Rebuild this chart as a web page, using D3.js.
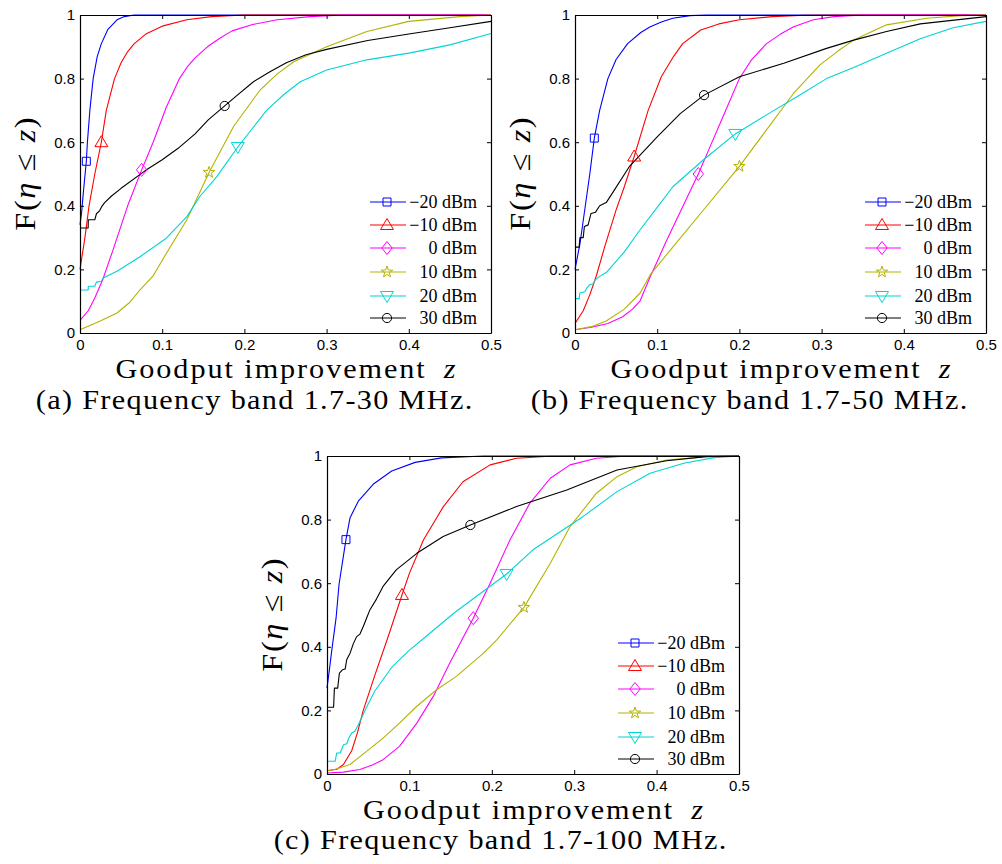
<!DOCTYPE html>
<html><head><meta charset="utf-8">
<script src="https://cdn.jsdelivr.net/npm/d3@7"></script>
<style>body{margin:0;background:#fff} svg{display:block}</style>
</head><body>
<svg id="c" width="1002" height="864"></svg>
<script>
// ---------- tick labels / categories ----------
const xTicks = [0, 0.1, 0.2, 0.3, 0.4, 0.5];
const yTicks = [0, 0.2, 0.4, 0.6, 0.8, 1];
const seriesNames = ["\u221220 dBm", "\u221210 dBm", "0 dBm", "10 dBm", "20 dBm", "30 dBm"];
const seriesColors = ["#0000ff", "#ff0000", "#ff00ff", "#b3b300", "#00d4d4", "#000000"];
const markerTypes = ["square", "triangle", "diamond", "star", "triangleDown", "circle"];
const captions = ["(a) Frequency band 1.7-30 MHz.", "(b) Frequency band 1.7-50 MHz.", "(c) Frequency band 1.7-100 MHz."];

// ---------- panel (a) 1.7-30 MHz : [z, F] ----------
const a_m20 = [[0,0.34],[0.002,0.38],[0.004,0.44],[0.0077,0.54],[0.009,0.60],[0.012,0.70],[0.016,0.80],[0.021,0.87],[0.026,0.91],[0.034,0.955],[0.045,0.985],[0.054,0.995],[0.066,1],[0.5,1]];
const a_m10 = [[0,0.2],[0.006,0.3],[0.011,0.4],[0.018,0.5],[0.026,0.6],[0.032,0.7],[0.042,0.8],[0.05,0.85],[0.058,0.885],[0.066,0.91],[0.08,0.94],[0.1,0.965],[0.13,0.985],[0.16,0.995],[0.2,1],[0.5,1]];
const a_0 = [[0,0.04],[0.01,0.07],[0.018,0.11],[0.028,0.17],[0.04,0.26],[0.058,0.4],[0.075,0.513],[0.089,0.6],[0.105,0.71],[0.121,0.8],[0.13,0.835],[0.14,0.865],[0.155,0.9],[0.17,0.927],[0.185,0.95],[0.21,0.97],[0.24,0.985],[0.28,0.995],[0.32,1],[0.5,1]];
const a_10 = [[0,0.01],[0.024,0.037],[0.045,0.063],[0.06,0.095],[0.073,0.136],[0.089,0.18],[0.105,0.25],[0.13,0.356],[0.157,0.505],[0.187,0.65],[0.219,0.764],[0.24,0.815],[0.26,0.853],[0.3,0.9],[0.349,0.948],[0.4,0.98],[0.462,0.995],[0.5,1]];
const a_20 = [[0,0.135],[0.0099,0.135],[0.0101,0.147],[0.018,0.147],[0.02,0.16],[0.026,0.163],[0.028,0.173],[0.045,0.194],[0.073,0.24],[0.105,0.298],[0.13,0.366],[0.146,0.43],[0.166,0.49],[0.192,0.585],[0.227,0.70],[0.248,0.75],[0.268,0.79],[0.3,0.827],[0.349,0.859],[0.4,0.88],[0.45,0.906],[0.5,0.942]];
const a_30 = [[0,0.33],[0.0099,0.33],[0.0101,0.356],[0.018,0.356],[0.02,0.375],[0.024,0.385],[0.027,0.4],[0.03,0.41],[0.038,0.43],[0.05,0.455],[0.079,0.51],[0.1,0.545],[0.119,0.58],[0.14,0.626],[0.156,0.67],[0.176,0.714],[0.19,0.745],[0.211,0.79],[0.23,0.82],[0.251,0.85],[0.275,0.875],[0.3,0.892],[0.35,0.92],[0.4,0.94],[0.45,0.96],[0.5,0.98]];
const a_markers = [[0.0077,0.54],[0.026,0.60],[0.075,0.513],[0.157,0.505],[0.192,0.585],[0.176,0.714]];

// ---------- panel (b) 1.7-50 MHz ----------
const b_m20 = [[0,0.2],[0.006,0.28],[0.012,0.39],[0.018,0.5],[0.0235,0.613],[0.03,0.7],[0.04,0.8],[0.05,0.86],[0.064,0.91],[0.08,0.945],[0.091,0.962],[0.105,0.978],[0.119,0.99],[0.14,0.998],[0.16,1],[0.5,1]];
const b_m10 = [[0,0.03],[0.01,0.07],[0.018,0.12],[0.026,0.18],[0.036,0.27],[0.05,0.387],[0.06,0.46],[0.072,0.555],[0.089,0.7],[0.105,0.806],[0.12,0.87],[0.131,0.91],[0.153,0.953],[0.175,0.972],[0.2,0.985],[0.24,0.995],[0.28,0.999],[0.36,1],[0.5,1]];
const b_0 = [[0,0.01],[0.02,0.018],[0.04,0.03],[0.058,0.051],[0.07,0.075],[0.079,0.1],[0.092,0.18],[0.1,0.225],[0.11,0.283],[0.131,0.397],[0.15,0.5],[0.165,0.59],[0.18,0.68],[0.2,0.8],[0.215,0.86],[0.233,0.91],[0.25,0.94],[0.266,0.963],[0.29,0.985],[0.315,0.995],[0.35,1],[0.5,1]];
const b_10 = [[0,0.01],[0.02,0.02],[0.038,0.038],[0.06,0.075],[0.079,0.125],[0.092,0.185],[0.119,0.27],[0.156,0.386],[0.2,0.524],[0.233,0.639],[0.266,0.754],[0.298,0.843],[0.319,0.885],[0.339,0.921],[0.379,0.969],[0.428,0.99],[0.47,0.998],[0.5,1]];
const b_20 = [[0,0.108],[0.005,0.108],[0.006,0.126],[0.012,0.13],[0.014,0.14],[0.018,0.152],[0.022,0.155],[0.025,0.168],[0.03,0.178],[0.038,0.19],[0.06,0.255],[0.079,0.324],[0.1,0.395],[0.119,0.46],[0.156,0.544],[0.195,0.626],[0.233,0.686],[0.27,0.743],[0.306,0.8],[0.339,0.835],[0.379,0.88],[0.42,0.925],[0.46,0.96],[0.5,0.98]];
const b_30 = [[0,0.27],[0.005,0.27],[0.006,0.3],[0.01,0.3],[0.0114,0.335],[0.016,0.34],[0.0195,0.376],[0.025,0.38],[0.03,0.4],[0.038,0.41],[0.048,0.45],[0.066,0.523],[0.1,0.617],[0.128,0.69],[0.157,0.748],[0.2,0.806],[0.254,0.848],[0.306,0.895],[0.339,0.921],[0.379,0.948],[0.42,0.972],[0.5,0.995]];
const b_markers = [[0.0235,0.613],[0.072,0.555],[0.15,0.5],[0.2,0.524],[0.195,0.626],[0.157,0.748]];

// ---------- panel (c) 1.7-100 MHz ----------
const c_m20 = [[0,0.27],[0.003,0.33],[0.0057,0.387],[0.011,0.49],[0.0146,0.596],[0.019,0.67],[0.023,0.737],[0.028,0.806],[0.038,0.858],[0.056,0.911],[0.0785,0.953],[0.107,0.98],[0.139,0.994],[0.19,1],[0.5,1]];
const c_m10 = [[0,0.01],[0.012,0.015],[0.02,0.03],[0.03,0.073],[0.037,0.13],[0.044,0.2],[0.058,0.31],[0.074,0.43],[0.091,0.563],[0.1,0.631],[0.117,0.736],[0.141,0.84],[0.165,0.919],[0.198,0.972],[0.23,0.993],[0.27,0.999],[0.31,1],[0.5,1]];
const c_0 = [[0,0.003],[0.02,0.006],[0.04,0.014],[0.055,0.028],[0.068,0.045],[0.088,0.087],[0.109,0.16],[0.129,0.244],[0.149,0.349],[0.1775,0.49],[0.198,0.6],[0.222,0.736],[0.246,0.851],[0.271,0.93],[0.295,0.972],[0.327,0.993],[0.36,0.999],[0.39,1],[0.5,1]];
const c_10 = [[0,0.01],[0.01,0.015],[0.028,0.03],[0.048,0.071],[0.068,0.113],[0.088,0.16],[0.109,0.213],[0.133,0.265],[0.157,0.307],[0.19,0.38],[0.206,0.422],[0.239,0.524],[0.271,0.663],[0.295,0.778],[0.327,0.883],[0.352,0.935],[0.376,0.966],[0.412,0.987],[0.47,1],[0.5,1]];
const c_20 = [[0,0.04],[0.01,0.04],[0.0117,0.066],[0.016,0.066],[0.02,0.092],[0.024,0.095],[0.026,0.11],[0.03,0.129],[0.034,0.135],[0.038,0.155],[0.042,0.177],[0.05,0.22],[0.058,0.261],[0.0785,0.335],[0.099,0.387],[0.119,0.43],[0.155,0.508],[0.218,0.629],[0.25,0.705],[0.311,0.81],[0.352,0.888],[0.392,0.946],[0.433,0.977],[0.47,0.995],[0.5,1]];
const c_30 = [[0,0.21],[0.008,0.21],[0.009,0.27],[0.013,0.27],[0.015,0.317],[0.019,0.328],[0.022,0.33],[0.024,0.36],[0.028,0.38],[0.032,0.41],[0.036,0.432],[0.04,0.44],[0.044,0.464],[0.048,0.49],[0.052,0.516],[0.06,0.55],[0.068,0.59],[0.084,0.642],[0.109,0.694],[0.141,0.747],[0.174,0.783],[0.23,0.841],[0.291,0.893],[0.352,0.956],[0.412,0.985],[0.46,0.998],[0.5,1]];
const c_markers = [[0.023,0.737],[0.091,0.563],[0.1775,0.49],[0.239,0.524],[0.218,0.629],[0.174,0.783]];

// ---------- layout ----------
const SERIF = "'Liberation Serif','Times New Roman',serif";
const SANS = "'Liberation Sans',Arial,Helvetica,sans-serif";
const panels = [
  {left: 80,  top: 15,  w: 411, h: 318, capX: 254, capY: 408.5, capW: 438, series: [a_m20,a_m10,a_0,a_10,a_20,a_30], markers: a_markers, caption: captions[0]},
  {left: 575, top: 15,  w: 411, h: 318, capX: 749, capY: 408.5, capW: 438, series: [b_m20,b_m10,b_0,b_10,b_20,b_30], markers: b_markers, caption: captions[1]},
  {left: 327, top: 456, w: 412, h: 318, capX: 500, capY: 849,   capW: 454, series: [c_m20,c_m10,c_0,c_10,c_20,c_30], markers: c_markers, caption: captions[2]}
];
const legendRows = [187, 210, 233, 257, 281, 303];

const svg = d3.select("#c");
svg.append("rect").attr("width",1002).attr("height",864).attr("fill","#fff");

function markerPath(type) {
  const p = d3.path();
  if (type === "square") { p.rect(-4,-4,8,8); }
  else if (type === "triangle") { p.moveTo(0,-6.5); p.lineTo(6.5,4.5); p.lineTo(-6.5,4.5); p.closePath(); }
  else if (type === "triangleDown") { p.moveTo(0,6.5); p.lineTo(6.5,-4.5); p.lineTo(-6.5,-4.5); p.closePath(); }
  else if (type === "diamond") { p.moveTo(0,-6.5); p.lineTo(5.2,0); p.lineTo(0,6.5); p.lineTo(-5.2,0); p.closePath(); }
  else if (type === "circle") { p.arc(0,0,4.6,0,2*Math.PI); p.closePath(); }
  else if (type === "star") {
    const R = 6, r = 2.4;
    for (let k = 0; k < 10; k++) {
      const a = -Math.PI/2 + k*Math.PI/5, rr = k%2 ? r : R;
      const px = rr*Math.cos(a), py = rr*Math.sin(a);
      if (k === 0) p.moveTo(px,py); else p.lineTo(px,py);
    }
    p.closePath();
  }
  return p.toString();
}
function drawMarker(g, type, cx, cy, color) {
  g.append("path").attr("d", markerPath(type)).attr("transform", `translate(${cx},${cy})`)
    .attr("fill","none").attr("stroke",color).attr("stroke-width",1);
}
// Place a centred text at (cx,cy), widened (mild horizontal stretch + spacing)
// so that it spans the same width as the original Computer Modern text.
function placeText(g, cx, cy, rot, size, target, build) {
  const wrap = g.append("g");
  const t = wrap.append("text").attr("x", 0).attr("y", 0).attr("text-anchor", "middle")
    .attr("font-family", SERIF).attr("font-size", size).attr("fill", "#000");
  build(t);
  const len = t.node().getComputedTextLength();
  const n = t.node().textContent.length;
  const s = Math.min(target / len, 1.12);
  const ls = (target / s - len) / n;
  t.attr("letter-spacing", ls.toFixed(2)).attr("x", (ls / 2).toFixed(2));
  wrap.attr("transform", `translate(${cx},${cy}) rotate(${rot}) scale(${s.toFixed(4)},1)`);
}
const fmt = d => String(d);

panels.forEach(p => {
  const g = svg.append("g");
  const x = d3.scaleLinear().domain([0,0.5]).range([p.left, p.left+p.w]);
  const y = d3.scaleLinear().domain([0,1]).range([p.top+p.h, p.top]);
  const line = d3.line().x(d => x(d[0])).y(d => y(d[1]));

  p.series.forEach((s,i) => {
    g.append("path").attr("d", line(s)).attr("fill","none")
      .attr("stroke", seriesColors[i]).attr("stroke-width", 1.1).attr("stroke-linejoin","round");
  });
  p.markers.forEach((m,i) => drawMarker(g, markerTypes[i], x(m[0]), y(m[1]), seriesColors[i]));

  // axes (ticks inward, mirrored on top/right)
  const bottom = g.append("g").attr("transform", `translate(0,${p.top+p.h})`)
    .call(d3.axisBottom(x).tickValues(xTicks).tickSizeInner(-4).tickSizeOuter(0).tickPadding(6).tickFormat(fmt));
  const left = g.append("g").attr("transform", `translate(${p.left},0)`)
    .call(d3.axisLeft(y).tickValues(yTicks).tickSizeInner(-4).tickSizeOuter(0).tickPadding(5).tickFormat(fmt));
  const top = g.append("g").attr("transform", `translate(0,${p.top})`)
    .call(d3.axisTop(x).tickValues(xTicks).tickSizeInner(-4).tickSizeOuter(0).tickFormat(""));
  const right = g.append("g").attr("transform", `translate(${p.left+p.w},0)`)
    .call(d3.axisRight(y).tickValues(yTicks).tickSizeInner(-4).tickSizeOuter(0).tickFormat(""));
  [bottom,left,top,right].forEach(a => {
    a.attr("font-family", SANS).attr("font-size", 15);
    a.selectAll("text").attr("fill","#000");
    a.selectAll("line").attr("stroke","#000");
    a.select(".domain").attr("stroke","#000").attr("stroke-width",1.2);
  });

  // legend (no box)
  const R = p.left + p.w;
  seriesNames.forEach((name,i) => {
    const ry = p.top + legendRows[i];
    g.append("line").attr("x1", R-121).attr("x2", R-85).attr("y1", ry).attr("y2", ry)
      .attr("stroke", seriesColors[i]).attr("stroke-width", 1.1);
    drawMarker(g, markerTypes[i], R-104, ry, seriesColors[i]);
    g.append("text").attr("x", R-14).attr("y", ry).attr("dy","0.35em")
      .attr("text-anchor","end").attr("font-family", SERIF).attr("font-size", 18)
      .attr("fill","#000").text(name);
  });

  // x label
  placeText(g, p.left + p.w/2, p.top + p.h + 44.5, 0, 27, 342, t => {
    t.append("tspan").text("Goodput improvement\u2002");
    t.append("tspan").attr("font-style","italic").text("z");
  });

  // y label
  placeText(g, p.left - 45, p.top + p.h/2, -90, 29, 115, t => {
    t.append("tspan").text("F(");
    t.append("tspan").attr("font-style","italic").text("\u03B7");
    t.append("tspan").text(" \u2264 ");
    t.append("tspan").attr("font-style","italic").text("z");
    t.append("tspan").text(")");
  });

  // caption
  placeText(g, p.capX, p.capY, 0, 27, p.capW, t => t.text(p.caption));
});
</script>
</body></html>
